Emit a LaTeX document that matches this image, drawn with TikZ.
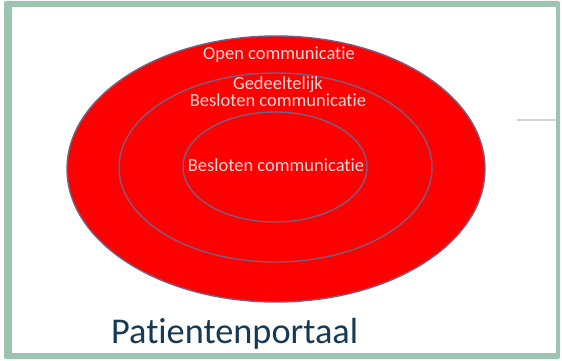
\documentclass[tikz,border=0pt]{standalone}
\usepackage{fontspec}
\setmainfont{Carlito}[Ligatures={NoCommon,NoRare}, Contextuals={NoAlternate}]
\usetikzlibrary{shapes.geometric}
\definecolor{framegreen}{HTML}{9CC4B1}
\definecolor{ringred}{HTML}{FF0000}
\definecolor{ringline}{HTML}{7A5E80}
\definecolor{ringtext}{HTML}{F8D6D6}
\definecolor{titleblue}{HTML}{163A56}
\definecolor{faintline}{HTML}{D4D4D4}
\tikzset{
  ring/.style={ellipse, draw=ringline, line width=1.4pt, fill=ringred, inner sep=0pt},
  ringlabel/.style={text=ringtext, font=\fontsize{18.5}{17}\selectfont, anchor=base, align=center, inner sep=0pt},
}
\begin{document}
\begin{tikzpicture}[x=1pt,y=-1pt]
  \useasboundingbox (0,0) rectangle (562,361);
  \fill[white] (0,0) rectangle (562,361);
  % frame
  \fill[framegreen, rounded corners=2pt] (4,1) rectangle (560,359);
  \fill[white] (12,7) rectangle (556,353);
  \coordinate (lineA) at (517,120);
  \coordinate (lineB) at (556,120);
  \draw[faintline, line width=1.3pt] (lineA) -- (lineB);
  % ellipses
  \node[ring, minimum width=418pt, minimum height=266pt] (outer) at (276,169) {};
  \node[ring, minimum width=313pt, minimum height=189pt] (middle) at (275.5,167.5) {};
  \node[ring, minimum width=184pt, minimum height=110pt] (inner) at (275,167) {};
  % labels
  \node[ringlabel] (open) at (279,59.5) {Open communicatie};
  \node[ringlabel] (partial) at (278,89.5) {Gedeeltelijk};
  \node[ringlabel] (partial2) at (278,106.5) {Besloten communicatie};
  \node[ringlabel] (closed) at (276,171.5) {Besloten communicatie};
  \node[text=titleblue, font=\fontsize{36.3}{40}\selectfont, anchor=base west, inner sep=0pt] (title) at (111,343) {Patientenportaal};
\end{tikzpicture}
\end{document}
